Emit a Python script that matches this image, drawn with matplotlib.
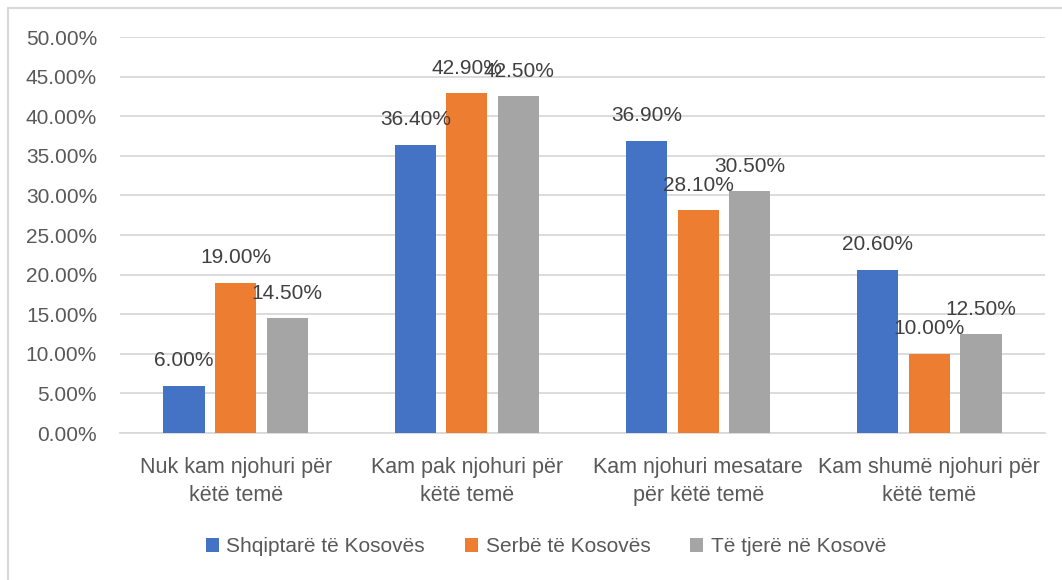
import numpy as np
import matplotlib.pyplot as plt
from matplotlib.patches import Rectangle

plt.rcParams['font.family'] = ['Liberation Sans', 'DejaVu Sans']

categories = ["Nuk kam njohuri për\nkëtë temë", "Kam pak njohuri për\nkëtë temë",
              "Kam njohuri mesatare\npër këtë temë", "Kam shumë njohuri për\nkëtë temë"]
series = ["Shqiptarë të Kosovës", "Serbë të Kosovës", "Të tjerë në Kosovë"]
shqiptare = [6.0, 36.4, 36.9, 20.6]
serbe = [19.0, 42.9, 28.1, 10.0]
tjere = [14.5, 42.5, 30.5, 12.5]
colors = ["#4472C4", "#ED7D31", "#A5A5A5"]
yticks = np.arange(0, 50.1, 5)

txt = "#595959"
fs = 15

fig = plt.figure(figsize=(10.62, 5.8), dpi=100)
ax = fig.add_axes([0.113, 0.2534, 0.871, 0.6828])

x = np.arange(len(categories))
w = 0.178
step = 0.223
for i, (vals, c, name) in enumerate(zip([shqiptare, serbe, tjere], colors, series)):
    pos = x + (i - 1) * step
    ax.bar(pos, vals, w, color=c, label=name, zorder=3)
    for px, v in zip(pos, vals):
        ax.annotate("{:.2f}%".format(v), (px, v), xytext=(0, 18), textcoords="offset points",
                    ha="center", va="center", fontsize=fs, color="#404040", zorder=4)

ax.set_xlim(-0.5, 3.5)
ax.set_ylim(0, 50)
ax.set_yticks(yticks)
ax.set_yticklabels(["{:.2f}%".format(t) for t in yticks], fontsize=fs, color=txt)
ax.set_xticks(x)
ax.set_xticklabels(categories, fontsize=15.5, color=txt, linespacing=1.45)
ax.tick_params(axis="both", length=0)
ax.tick_params(axis="y", pad=16.5)
ax.tick_params(axis="x", pad=17)
ax.grid(axis="y", color="#D9D9D9", linewidth=1.3, zorder=0)
for s in ["top", "right", "left"]:
    ax.spines[s].set_visible(False)
ax.spines["bottom"].set_color("#D9D9D9")
ax.spines["bottom"].set_linewidth(1.3)

fig.legend(loc="center", bbox_to_anchor=(0.514, 0.057), ncol=3, frameon=False,
           fontsize=fs, handlelength=0.65, handleheight=0.65, handletextpad=0.35,
           columnspacing=1.9, labelcolor=txt)

# chart border
fig.patches.append(Rectangle((8 / 1062, -0.1), 1.2, 1 - 8 / 580 + 0.1, transform=fig.transFigure,
                             fill=False, edgecolor="#D9D9D9", linewidth=1.5))

fig.savefig("out.png", dpi=100)
